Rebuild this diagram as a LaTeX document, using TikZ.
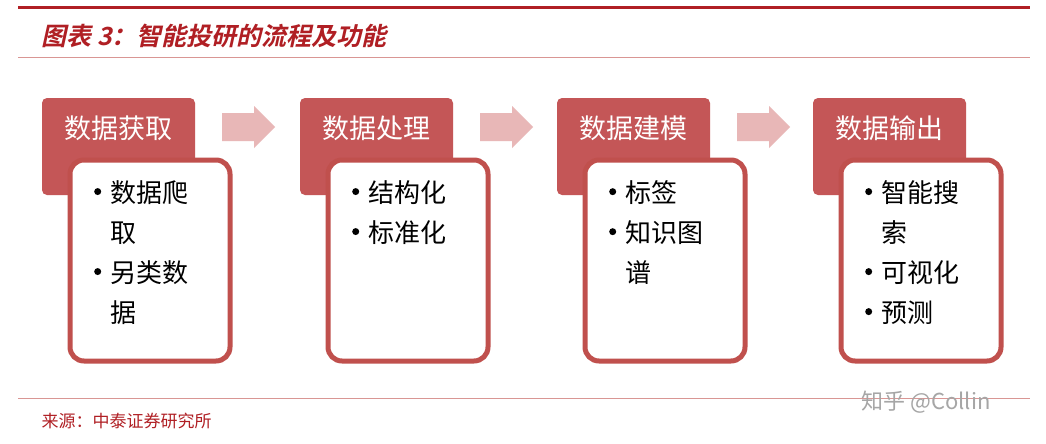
\documentclass[tikz,border=0pt]{standalone}
\usepackage{fontspec}
\newfontfamily\cjk{Noto Sans CJK SC}
\newfontfamily\cjkslant[FakeSlant=0.22]{Noto Sans CJK SC Bold}
\definecolor{hdr}{HTML}{C45657}
\definecolor{brd}{HTML}{C0504D}
\definecolor{arr}{HTML}{E8B7B7}
\definecolor{ttl}{HTML}{B01F24}
\newcommand{\bul}{\makebox[16pt][l]{\raisebox{7pt}{\tikz\fill (0,0) circle (3.5pt);}}}
\newcommand{\ind}{\hspace*{16pt}}
\begin{document}
\begin{tikzpicture}[x=1pt,y=-1pt,
  body/.style={fill=white,draw=brd,line width=5pt,rounded corners=14pt},
  btxt/.style={anchor=north west,align=left,font=\cjk\fontsize{26}{40}\selectfont,inner sep=0pt}]
\useasboundingbox (0,0) rectangle (1046,444);
\fill[white] (0,0) rectangle (1046,444);
\draw[ttl,line width=3pt] (18,8) -- (1030,8);
\draw[brd!60,line width=1pt] (18,58) -- (1030,58);
\node[anchor=west,text=ttl,font=\cjkslant\fontsize{25}{28}\selectfont] (title) at (38,36) {图表 3：智能投研的流程及功能};
\draw[brd!60,line width=1pt] (18,398) -- (1030,398);
\node[anchor=west,text=ttl,font=\cjk\fontsize{17}{20}\selectfont] (src) at (38,421) {来源：中泰证券研究所};
\node[anchor=west,text=gray!70,font=\cjk\fontsize{22}{24}\selectfont] (wm) at (858,402) {知乎 @Collin};
\foreach \i/\x/\h/\t in {1/42/数据获取/{\bul 数据爬\\\ind 取\\\bul 另类数\\\ind 据},
  2/300/数据处理/{\bul 结构化\\\bul 标准化},
  3/557/数据建模/{\bul 标签\\\bul 知识图\\\ind 谱},
  4/813/数据输出/{\bul 智能搜\\\ind 索\\\bul 可视化\\\bul 预测}}{
  \fill[hdr,rounded corners=5pt] (\x,98) rectangle ++(153,97);
  \node[text=white,font=\cjk\fontsize{27}{30}\selectfont] (h\i) at (\x+76,128) {\h};
  \draw[body] (\x+28,160) rectangle ++(160,201);
  \node[btxt] (b\i) at (\x+52,180) {\t};
}
\foreach \x in {222,480,737}{
  \fill[arr] (\x,113) -- (\x+32,113) -- (\x+32,106) -- (\x+53,127) -- (\x+32,148) -- (\x+32,141) -- (\x,141) -- cycle;
}
\end{tikzpicture}
\end{document}
